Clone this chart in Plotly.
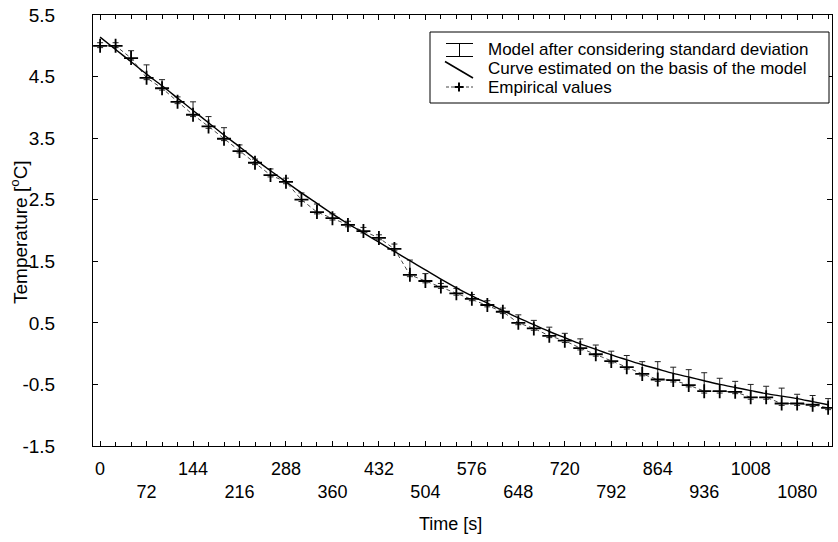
import plotly.graph_objects as go

# ---------------- data ----------------
time_s = [0, 24, 48, 72, 96, 120, 144, 168, 192, 216, 240, 264, 288, 312, 336, 360,
          384, 408, 432, 456, 480, 504, 528, 552, 576, 600, 624, 648, 672, 696, 720, 744,
          768, 792, 816, 840, 864, 888, 912, 936, 960, 984, 1008, 1032, 1056, 1080, 1104, 1128]

empirical = [5.00, 5.00, 4.80, 4.48, 4.31, 4.09, 3.88, 3.69, 3.49, 3.29, 3.10, 2.90,
             2.79, 2.50, 2.30, 2.20, 2.09, 1.99, 1.88, 1.70, 1.28, 1.18, 1.09, 0.98,
             0.89, 0.79, 0.68, 0.50, 0.41, 0.29, 0.21, 0.09, -0.01, -0.12, -0.22, -0.33,
             -0.42, -0.43, -0.51, -0.61, -0.61, -0.62, -0.71, -0.71, -0.81, -0.81, -0.83, -0.88]

model = [5.14, 4.94, 4.74, 4.54, 4.35, 4.15, 3.95, 3.75, 3.55, 3.36, 3.16, 2.97,
         2.79, 2.61, 2.44, 2.27, 2.11, 1.96, 1.81, 1.66, 1.51, 1.36, 1.21, 1.07,
         0.94, 0.82, 0.70, 0.58, 0.47, 0.36, 0.26, 0.16, 0.07, -0.02, -0.10, -0.18,
         -0.25, -0.32, -0.38, -0.44, -0.50, -0.55, -0.60, -0.65, -0.69, -0.73, -0.78, -0.83]

# upper end of the "model after considering standard deviation" whiskers
bar_top = [5.05, 5.05, 4.92, 4.69, 4.45, 4.17, 4.09, 3.85, 3.67, 3.39, 3.16, 3.00,
           2.85, 2.61, 2.43, 2.27, 2.15, 2.05, 1.93, 1.78, 1.52, 1.30, 1.14, 1.06,
           0.96, 0.86, 0.74, 0.63, 0.54, 0.43, 0.33, 0.24, 0.14, 0.04, -0.03, -0.13,
           -0.13, -0.22, -0.26, -0.31, -0.40, -0.45, -0.50, -0.53, -0.56, -0.66, -0.68, -0.73]

x_tick_values = [0, 72, 144, 216, 288, 360, 432, 504, 576, 648, 720, 792, 864, 936, 1008, 1080]
y_tick_values = [-1.5, -0.5, 0.5, 1.5, 2.5, 3.5, 4.5, 5.5]

legend_labels = ["Model after considering standard deviation",
                 "Curve estimated on the basis of the model",
                 "Empirical values"]
x_title = "Time [s]"
y_title = "Temperature [<sup>o</sup>C]"

# ---------------- figure ----------------
FONT = "Liberation Sans, Arial, sans-serif"
W, H = 838, 542
ML, MR, MT, MB = 93, 6, 15, 96

fig = go.Figure()

err_up = [max(t - e, 0) for t, e in zip(bar_top, empirical)]
fig.add_trace(go.Scatter(
    x=time_s, y=empirical, mode="markers",
    marker=dict(size=1, color="rgba(0,0,0,0)"),
    error_y=dict(type="data", symmetric=False, array=err_up,
                 arrayminus=[0.03] * len(empirical),
                 color="#222222", thickness=1, width=3),
    showlegend=False, hoverinfo="skip"))

fig.add_trace(go.Scatter(
    x=time_s, y=empirical, mode="lines+markers",
    line=dict(color="#444444", width=1, dash="4px,3px"),
    marker=dict(symbol="cross-thin", size=10, line=dict(color="black", width=1.8)),
    showlegend=False))

fig.add_trace(go.Scatter(
    x=time_s, y=model, mode="lines",
    line=dict(color="black", width=1.4, shape="spline", smoothing=0.8),
    showlegend=False))

ticktext = [str(v) if i % 2 == 0 else "<br>" + str(v) for i, v in enumerate(x_tick_values)]

fig.update_layout(
    width=W, height=H,
    margin=dict(l=ML, r=MR, t=MT, b=MB),
    paper_bgcolor="white", plot_bgcolor="white",
    font=dict(family=FONT, size=18, color="black"),
    showlegend=False,
    xaxis=dict(range=[-11, 1134], tickmode="array", tickvals=x_tick_values, ticktext=ticktext,
               ticks="inside", ticklen=5, tickcolor="black", showgrid=False, zeroline=False,
               showline=True, linecolor="black", linewidth=1, mirror="allticks",
               ticklabelstandoff=6,
               minor=dict(tickmode="linear", tick0=0, dtick=24, ticks="inside", ticklen=4,
                          tickcolor="black", showgrid=False),
               tickfont=dict(size=18)),
    yaxis=dict(range=[-1.5, 5.5], tickmode="array", tickvals=y_tick_values,
               ticktext=[f"{v:.1f}" for v in y_tick_values],
               ticks="inside", ticklen=5, tickcolor="black", showgrid=False, zeroline=False,
               showline=True, linecolor="black", linewidth=1, mirror="allticks",
               ticklabelstandoff=33, tickfont=dict(size=19)),
)

# ---------------- hand-drawn legend (paper coordinates from pixel positions) ----------------
PW, PH = W - ML - MR, H - MT - MB
def px(x):
    return (x - ML) / PW
def py(y):
    return (H - MB - y) / PH

# axis titles
fig.add_annotation(xref="paper", yref="paper", x=px(450), y=py(524), text=x_title, showarrow=False,
                   xanchor="center", yanchor="middle", font=dict(family=FONT, size=18))
fig.add_annotation(xref="paper", yref="paper", x=px(19), y=py(232), text=y_title, showarrow=False,
                   textangle=-90, xanchor="center", yanchor="middle", font=dict(family=FONT, size=19))

shapes = []
shapes.append(dict(type="rect", xref="paper", yref="paper", x0=px(430), x1=px(829), y0=py(103), y1=py(32),
                   line=dict(color="black", width=1), fillcolor="white", layer="above"))
rows = [50, 68.5, 87]
# whisker glyph
shapes += [
    dict(type="line", xref="paper", yref="paper", x0=px(446), x1=px(473), y0=py(43.5), y1=py(43.5), line=dict(color="black", width=1)),
    dict(type="line", xref="paper", yref="paper", x0=px(446), x1=px(473), y0=py(56.5), y1=py(56.5), line=dict(color="black", width=1)),
    dict(type="line", xref="paper", yref="paper", x0=px(459.5), x1=px(459.5), y0=py(43.5), y1=py(56.5), line=dict(color="black", width=1)),
]
# curve glyph
shapes.append(dict(type="line", xref="paper", yref="paper", x0=px(445), x1=px(473), y0=py(61.5), y1=py(78),
                   line=dict(color="black", width=1.6)))
# empirical glyph
shapes += [
    dict(type="line", xref="paper", yref="paper", x0=px(446), x1=px(473), y0=py(rows[2]), y1=py(rows[2]),
         line=dict(color="#444444", width=1, dash="3px,2px")),
    dict(type="line", xref="paper", yref="paper", x0=px(454.5), x1=px(463.5), y0=py(rows[2]), y1=py(rows[2]), line=dict(color="black", width=2)),
    dict(type="line", xref="paper", yref="paper", x0=px(459), x1=px(459), y0=py(rows[2] - 4.5), y1=py(rows[2] + 4.5), line=dict(color="black", width=2)),
]
fig.update_layout(shapes=shapes)

for lbl, ry in zip(legend_labels, rows):
    fig.add_annotation(xref="paper", yref="paper", x=px(486), y=py(ry), text=lbl, showarrow=False,
                       xanchor="left", yanchor="middle", font=dict(family=FONT, size=17, color="black"))

fig.write_html("out.html", config={"displayModeBar": False, "staticPlot": True},
               post_script="document.body.style.margin='0px';document.body.style.overflow='hidden';")
